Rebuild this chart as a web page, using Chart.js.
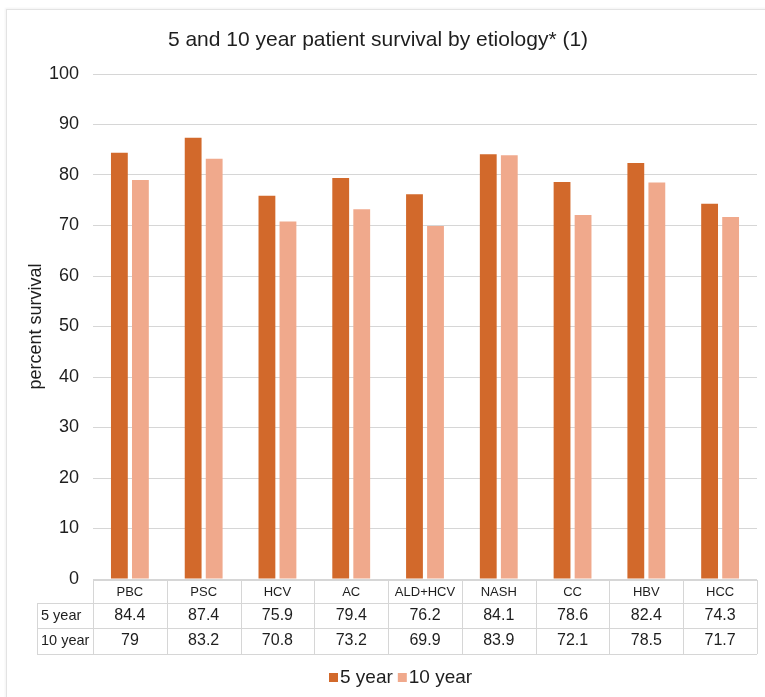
<!DOCTYPE html>
<html>
<head>
<meta charset="utf-8">
<script src="https://cdn.jsdelivr.net/npm/chart.js@4/dist/chart.umd.min.js"></script>
<style>
  html, body { margin: 0; padding: 0; background: #fff; }
  #wrap { position: relative; width: 765px; height: 697px; overflow: hidden; }
  #card { position: absolute; left: 6px; top: 9px; right: -10px; bottom: -10px;
          border-left: 1px solid #e3e3e3; border-top: 1px solid #e3e3e3;
          box-shadow: -1px -1px 2px rgba(0,0,0,0.05); }
  canvas { position: absolute; left: 0; top: 0; }
</style>
</head>
<body>
<div id="wrap">
  <div id="card"></div>
  <canvas id="c" width="765" height="697"></canvas>
</div>
<script>
const titleText = '5 and 10 year patient survival by etiology* (1)';
const categories = ['PBC', 'PSC', 'HCV', 'AC', 'ALD+HCV', 'NASH', 'CC', 'HBV', 'HCC'];
const fiveYear = [84.4, 87.4, 75.9, 79.4, 76.2, 84.1, 78.6, 82.4, 74.3];
const tenYear = [79, 83.2, 70.8, 73.2, 69.9, 83.9, 72.1, 78.5, 71.7];
const seriesNames = ['5 year', '10 year'];
const seriesColors = ['#D2692B', '#F0A98C'];
const yTicks = [0, 10, 20, 30, 40, 50, 60, 70, 80, 90, 100];

const FONT = '"Liberation Sans", Arial, Helvetica, sans-serif';
const TEXT = '#1e1e1e';
const LINE = '#d6d6d6';

// Title, data table under the axis, and legend
const extras = {
  id: 'extras',
  afterDraw(chart) {
    const ctx = chart.ctx;
    const x = chart.scales.x;
    const area = chart.chartArea;
    ctx.save();

    // title
    ctx.fillStyle = TEXT;
    ctx.font = '21px ' + FONT;
    ctx.textAlign = 'center';
    ctx.textBaseline = 'middle';
    ctx.fillText(titleText, 378, 40);

    // data table
    const n = categories.length;
    const colW = (area.right - area.left) / n;
    const top = area.bottom + 1;
    const rows = [top, top + 23, top + 48, top + 74];
    const labelLeft = 37;
    ctx.strokeStyle = LINE;
    ctx.lineWidth = 1;
    ctx.beginPath();
    // header row top border (category part only)
    ctx.moveTo(area.left, rows[0] + 0.5); ctx.lineTo(area.right, rows[0] + 0.5);
    for (let r = 1; r < rows.length; r++) {
      ctx.moveTo(labelLeft, rows[r] + 0.5); ctx.lineTo(area.right, rows[r] + 0.5);
    }
    ctx.moveTo(labelLeft + 0.5, rows[1]); ctx.lineTo(labelLeft + 0.5, rows[3]);
    for (let i = 0; i <= n; i++) {
      const cx = Math.round(area.left + i * colW) + 0.5;
      ctx.moveTo(cx, rows[0]); ctx.lineTo(cx, rows[3]);
    }
    ctx.stroke();

    ctx.fillStyle = TEXT;
    ctx.textAlign = 'center';
    ctx.textBaseline = 'middle';
    ctx.font = '13px ' + FONT;
    categories.forEach((c, i) => {
      ctx.fillText(c, x.getPixelForValue(i), (rows[0] + rows[1]) / 2 + 1);
    });
    ctx.font = '16px ' + FONT;
    [fiveYear, tenYear].forEach((vals, r) => {
      const cy = (rows[r + 1] + rows[r + 2]) / 2;
      vals.forEach((v, i) => ctx.fillText(String(v), x.getPixelForValue(i), cy));
    });
    ctx.textAlign = 'left';
    ctx.font = '14.5px ' + FONT;
    seriesNames.forEach((s, r) => {
      ctx.fillText(s, labelLeft + 4, (rows[r + 1] + rows[r + 2]) / 2);
    });

    // legend
    ctx.font = '19px ' + FONT;
    const ly = 677;
    let lx = 329;
    seriesNames.forEach((s, i) => {
      ctx.fillStyle = seriesColors[i];
      ctx.fillRect(lx, ly - 4, 9, 9);
      ctx.fillStyle = TEXT;
      ctx.fillText(s, lx + 11, ly + 1);
      lx += 11 + ctx.measureText(s).width + 5;
    });
    ctx.restore();
  }
};

new Chart(document.getElementById('c'), {
  type: 'bar',
  data: {
    labels: categories,
    datasets: [
      { label: seriesNames[0], data: fiveYear, backgroundColor: seriesColors[0] },
      { label: seriesNames[1], data: tenYear, backgroundColor: seriesColors[1] }
    ]
  },
  options: {
    responsive: false,
    animation: false,
    events: [],
    categoryPercentage: 0.57,
    barPercentage: 0.8,
    layout: { padding: { top: 74, left: 20, right: 8, bottom: 0 } },
    plugins: {
      legend: { display: false },
      title: { display: false },
      tooltip: { enabled: false }
    },
    scales: {
      x: {
        grid: { display: false },
        border: { display: false },
        ticks: { display: false },
        afterFit(scale) { scale.height = 118; }
      },
      y: {
        min: 0,
        max: 100,
        afterBuildTicks(scale) { scale.ticks = yTicks.map(v => ({ value: v })); },
        grid: { color: LINE, lineWidth: 1, drawTicks: false },
        border: { display: false },
        ticks: { color: TEXT, font: { family: FONT, size: 18 }, padding: 14 },
        title: {
          display: true,
          text: 'percent survival',
          color: TEXT,
          font: { family: FONT, size: 18 },
          padding: { top: 5, bottom: 0 }
        },
        afterFit(scale) { scale.width = 73; }
      }
    }
  },
  plugins: [extras]
});
</script>
</body>
</html>
